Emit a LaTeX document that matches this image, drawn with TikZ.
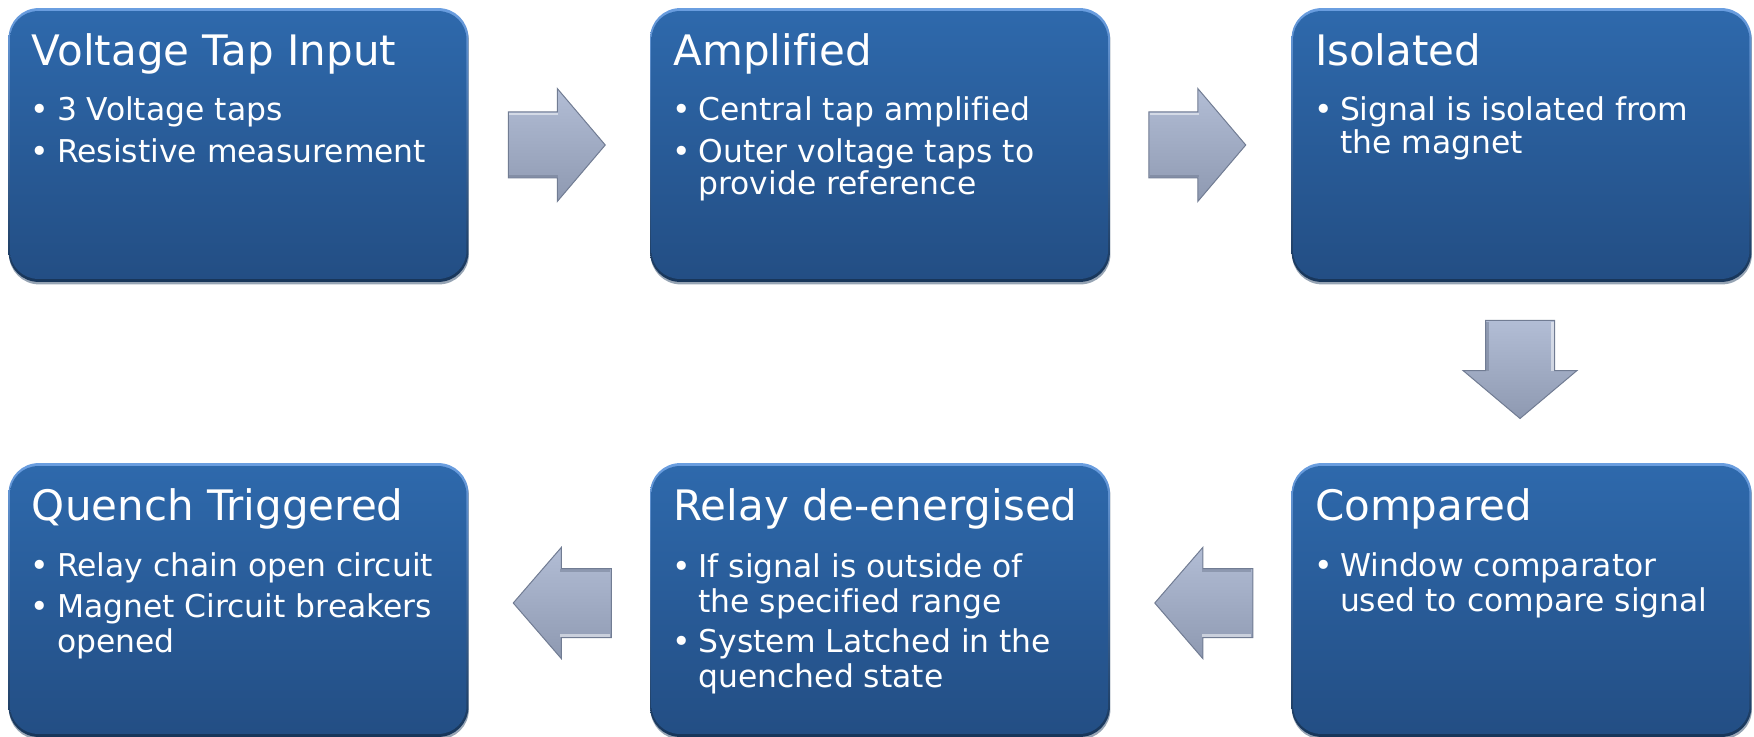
\documentclass[tikz,border=0pt]{standalone}
\usepackage{fontspec}
\setmainfont[Ligatures=NoCommon]{DejaVu Sans}
\usetikzlibrary{calc}
\definecolor{facetop}{HTML}{2E69AC}
\definecolor{facebot}{HTML}{234E84}
\definecolor{rimtop}{HTML}{6A9EE0}
\definecolor{rimbot}{HTML}{173559}
\definecolor{arrtop}{HTML}{B2BDD5}
\definecolor{arrbot}{HTML}{8E99B1}
\definecolor{arredge}{HTML}{717C93}
\newcommand\drawbox[1]{%
  \fill[rimbot, opacity=.45, rounded corners=15pt] ($(#1.north west)+(0.5,2.5)$) rectangle ($(#1.south east)+(0.5,2.5)$);
  \path[top color=rimtop, bottom color=rimbot, rounded corners=15pt] (#1.north west) rectangle (#1.south east);
  \path[top color=facetop, bottom color=facebot, rounded corners=14pt] ($(#1.north west)+(1.5,3)$) rectangle ($(#1.south east)+(-2,-3)$);}
\newcommand\myitem[4]{%
  \node[bul] (#1d) at ($(#2.north west)+(22,#3)$) {•};
  \node[bt] (#1) at ($(#2.north west)+(48,#3)$) {#4};}
\newcommand\mycont[4]{\node[bt] (#1) at ($(#2.north west)+(48,#3)$) {#4};}
\newcommand\mytitle[3]{\node[ttl] (#1) at ($(#2.north west)+(23,57)$) {#3};}
\begin{document}
\begin{tikzpicture}[x=0.5pt,y=-0.5pt,
  boxnode/.style={minimum width=229.5pt, minimum height=136.5pt, inner sep=0},
  ttl/.style={anchor=base west, inner sep=0, text=white, font=\fontsize{21}{25}\selectfont},
  bt/.style={anchor=base west, inner sep=0, text=white, font=\fontsize{15.7}{19}\selectfont},
  bul/.style={anchor=base west, inner sep=0, text=white, font=\fontsize{15.7}{19}\selectfont},
  blockarrow/.style={top color=arrtop, bottom color=arrbot, draw=arredge, line width=0.5pt, line join=miter},
  hilite/.style={white, opacity=.5, line width=1.2pt},
  shade2/.style={arredge, opacity=.5, line width=1.2pt}]
\useasboundingbox (0,0) rectangle (1754,737);

% boxes
\node[boxnode] (b1) at (238.5,145) {};
\node[boxnode] (b2) at (880,145) {};
\node[boxnode] (b3) at (1521.5,145) {};
\node[boxnode] (b4) at (1521.5,600) {};
\node[boxnode] (b5) at (880,600) {};
\node[boxnode] (b6) at (238.5,600) {};
\drawbox{b1}\drawbox{b2}\drawbox{b3}\drawbox{b4}\drawbox{b5}\drawbox{b6}

% arrows between boxes
\coordinate (r1) at ($(b1.east)!0.5!(b2.west)+(-2.5,0)$);
\coordinate (r2) at ($(b2.east)!0.5!(b3.west)+(-3.5,0)$);
\coordinate (dn) at ($(b3.south)!0.5!(b4.north)+(-1.5,-3)$);
\coordinate (l1) at ($(b5.west)!0.5!(b4.east)+(3,3)$);
\coordinate (l2) at ($(b6.east)!0.5!(b5.west)+(3,3)$);

\path[blockarrow, shift={(r1)}] (-48.5,-33) -- (0.5,-33) -- (0.5,-56.5) -- (48.5,0) -- (0.5,56.5) -- (0.5,33) -- (-48.5,33) -- cycle;
\draw[hilite, shift={(r1)}] (-47.5,-31) -- (1.5,-31);
\draw[shade2, shift={(r1)}] (-47.5,31) -- (1.5,31);
\path[blockarrow, shift={(r2)}] (-48.5,-33) -- (0.5,-33) -- (0.5,-56.5) -- (48.5,0) -- (0.5,56.5) -- (0.5,33) -- (-48.5,33) -- cycle;
\draw[hilite, shift={(r2)}] (-47.5,-31) -- (1.5,-31);
\draw[shade2, shift={(r2)}] (-47.5,31) -- (1.5,31);
\path[blockarrow, shift={(dn)}] (-34.5,-49) -- (34.5,-49) -- (34.5,1) -- (57,1) -- (0,49) -- (-57,1) -- (-34.5,1) -- cycle;
\draw[hilite, shift={(dn)}] (32.5,-47) -- (32.5,1);
\draw[shade2, shift={(dn)}] (-32.5,-47) -- (-32.5,1);
\path[blockarrow, shift={(l1)}] (49,-34.5) -- (-1,-34.5) -- (-1,-55.5) -- (-49,0) -- (-1,55.5) -- (-1,34.5) -- (49,34.5) -- cycle;
\draw[hilite, shift={(l1)}] (-2,32.5) -- (47.5,32.5);
\draw[shade2, shift={(l1)}] (-2,-32.5) -- (47.5,-32.5);
\path[blockarrow, shift={(l2)}] (49,-34.5) -- (-1,-34.5) -- (-1,-55.5) -- (-49,0) -- (-1,55.5) -- (-1,34.5) -- (49,34.5) -- cycle;
\draw[hilite, shift={(l2)}] (-2,32.5) -- (47.5,32.5);
\draw[shade2, shift={(l2)}] (-2,-32.5) -- (47.5,-32.5);

% texts
\mytitle{t1}{b1}{Voltage Tap Input}
\myitem{i1a}{b1}{112}{3 Voltage taps}
\myitem{i1b}{b1}{154}{Resistive measurement}

\mytitle{t2}{b2}{Amplified}
\myitem{i2a}{b2}{112}{Central tap amplified}
\myitem{i2b}{b2}{154}{Outer voltage taps to}
\mycont{i2c}{b2}{186}{provide reference}

\mytitle{t3}{b3}{Isolated}
\myitem{i3a}{b3}{112}{Signal is isolated from}
\mycont{i3b}{b3}{145}{the magnet}

\mytitle{t4}{b4}{Compared}
\myitem{i4a}{b4}{113}{Window comparator}
\mycont{i4b}{b4}{148}{used to compare signal}

\mytitle{t5}{b5}{Relay de-energised}
\myitem{i5a}{b5}{114}{If signal is outside of}
\mycont{i5b}{b5}{149}{the specified range}
\myitem{i5c}{b5}{189}{System Latched in the}
\mycont{i5d}{b5}{224}{quenched state}

\mytitle{t6}{b6}{Quench Triggered}
\myitem{i6a}{b6}{113}{Relay chain open circuit}
\myitem{i6b}{b6}{154}{Magnet Circuit breakers}
\mycont{i6c}{b6}{189}{opened}
\end{tikzpicture}
\end{document}
